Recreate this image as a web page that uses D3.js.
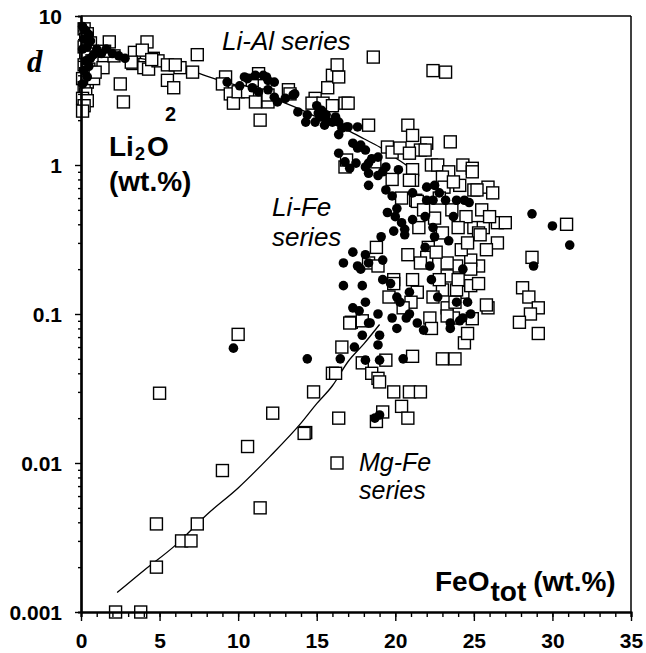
<!DOCTYPE html>
<html><head><meta charset="utf-8">
<script src="https://cdn.jsdelivr.net/npm/d3@7"></script>
<style>html,body{margin:0;padding:0;background:#fff;}svg{display:block;}</style>
</head><body>
<svg id="chart" width="646" height="653"></svg>
<script>
// ---- data (FeOtot wt.%, Li2O wt.%) ----
const xTicks = [0,5,10,15,20,25,30,35];
const yTicks = [0.001,0.01,0.1,1,10];
const yTickLabels = ["0.001","0.01","0.1","1","10"];

// open squares
const squarePoints = [
 [0.2,8.2],[0.4,7.6],[0.3,7.0],[0.6,6.6],[0.2,6.2],[0.5,5.8],[0.3,5.3],[0.7,5.0],[0.2,4.7],[0.5,4.4],
 [0.3,4.1],[0.1,3.8],[0.4,3.6],[0.2,3.3],[0.3,3.0],[0.1,2.8],[0.4,2.7],[0.2,2.5],[0.1,2.3],[0.6,4.0],[0.8,3.8],
 [1.8,6.7],[1.4,4.5],[0.9,4.2],[2.5,3.5],[2.7,2.65],[4.2,6.7],[3.3,4.8],[4.0,4.5],[4.6,5.2],[5.5,3.7],
 [5.9,3.3],[6.3,4.5],[7.1,4.2],[7.4,5.5],[3.4,5.7],[3.9,5.9],[4.3,4.4],[4.9,5.0],[5.5,4.7],[6.0,4.7],
 [4.5,5.1],[3.2,4.9],[2.1,5.4],[1.5,5.8],[9.2,3.9],[9.0,3.5],[9.5,3.0],[9.7,2.6],[10.0,3.1],[10.6,3.1],
 [10.9,3.7],[11.1,2.65],[11.9,2.65],[11.9,2.95],[11.4,2.0],[13.2,3.2],[13.3,3.0],[11.3,4.1],[14.9,2.8],
 [14.7,2.6],[15.4,2.6],[16.0,2.5],[16.8,2.6],[15.7,3.3],[16.0,4.0],[16.4,3.9],[16.3,4.7],[18.6,5.3],
 [17.0,2.6],[18.3,1.85],[19.5,1.32],[19.8,1.22],[18.7,1.05],[16.8,0.97],[16.9,1.08],
 [22.4,4.3],[23.2,4.2],[20.8,1.85],[21.1,1.58],[22.0,1.4],[23.5,1.43],[20.3,1.3],[21.6,1.26],[20.9,1.2],
 [21.9,1.26],[22.3,1.0],[22.7,1.0],[24.3,1.0],[24.9,0.95],[23.4,0.9],[21.1,0.93],[21.1,0.79],[25.9,0.71],
 [26.2,0.65],[25.0,0.68],[24.1,0.73],[21.3,0.58],[26.5,0.41],[27.0,0.41],[25.0,0.38],[25.6,0.38],
 [25.3,0.35],[26.5,0.3],[30.9,0.4],[28.7,0.24],[18.8,0.28],[18.3,0.22],[23.9,0.21],[25.3,0.21],
 [28.1,0.15],[28.5,0.13],[29.1,0.11],[28.6,0.1],[27.9,0.088],[29.1,0.074],[19.9,0.17],[23.0,0.145],
 [24.3,0.14],[25.9,0.11],[17.2,0.088],[17.9,0.09],
 [21.4,0.57],[20.9,0.79],[23.0,0.83],[23.1,0.71],[23.7,0.77],[24.9,0.9],[25.2,0.68],[22.5,0.44],
 [25.4,0.34],[18.9,0.21],[19.9,0.16],[22.1,0.28],[22.0,0.24],[23.3,0.22],[23.3,0.18],[24.8,0.23],
 [24.8,0.2],[24.8,0.155],[23.9,0.145],[21.1,0.17],[21.4,0.14],[22.4,0.13],[23.3,0.11],[22.2,0.094],
 [25.8,0.115],[23.7,0.094],[17.1,0.087],
 [16.6,0.06],[16.0,0.04],[14.8,0.03],[14.3,0.016],[16.4,0.02],[17.9,0.047],[19.4,0.049],[18.5,0.04],
 [18.9,0.037],[19.0,0.035],[19.9,0.03],[20.9,0.03],[21.6,0.03],[20.4,0.024],[20.8,0.02],[19.2,0.022],
 [18.8,0.019],[21.1,0.052],[22.3,0.08],[23.0,0.05],[23.8,0.05],[23.3,0.097],
 [24.4,0.064],[24.6,0.074],[24.9,0.093],
 [10.0,0.073],[5.0,0.0294],[12.2,0.0216],[10.6,0.0129],[9.0,0.0089],[11.4,0.005],[14.2,0.0158],
 [16.2,0.04],[4.8,0.0039],[7.4,0.0039],[6.4,0.003],[7.0,0.003],[4.8,0.002],[2.2,0.001],[3.8,0.001],
 [21.8,0.5],[22.8,0.6],[23.6,0.5],[24.5,0.45],[25.5,0.5],[24.0,0.38],[23.0,0.35],[21.5,0.38],
 [22.6,0.26],[24.2,0.27],[25.8,0.27],[21.6,0.22],[20.8,0.25],[22.8,0.17],[24.0,0.17],[25.3,0.16],
 [21.0,0.12],[23.8,0.12],[20.5,0.11],[19.6,0.13],[24.6,0.3],[20.4,0.6],[19.8,0.8],[26.0,0.45]
];

// filled circles
const circlePoints = [
 [0.1,8.5],[0.3,8.0],[0.5,7.5],[0.2,7.0],[0.6,6.8],[0.4,6.2],[0.1,6.0],[1.0,6.0],[0.8,5.5],[0.3,5.0],
 [0.5,4.6],[0.2,4.3],[0.4,3.9],[0.1,3.5],[0.6,5.2],[1.3,5.6],[2.0,5.6],[2.4,5.4],[2.8,5.2],[1.6,6.0],
 [9.3,3.6],[10.1,3.4],[10.4,3.9],[10.6,3.8],[11.1,4.0],[11.6,4.0],[11.8,3.9],[11.9,3.7],[12.3,3.6],
 [10.9,3.3],[11.9,3.2],[11.3,3.1],[12.3,2.85],[13.0,2.8],[13.6,3.0],[12.5,2.65],[13.5,2.95],
 [13.8,2.27],[14.4,2.17],[14.9,1.94],[15.3,2.33],[15.2,2.1],[15.6,2.17],[16.0,1.94],[14.3,1.94],
 [15.5,1.85],[15.0,2.5],[16.4,1.94],[16.6,1.77],[17.0,1.8],[15.1,2.23],[15.6,2.0],[16.2,2.1],[16.9,1.8],[17.6,1.8],
 [16.4,1.6],[17.3,1.4],[17.8,1.36],[17.6,1.3],[16.4,1.2],[16.8,1.05],[17.1,0.95],[18.1,0.97],[18.5,1.1],
 [19.2,0.9],[18.1,1.26],[18.9,1.13],[17.5,1.03],[18.3,1.03],[18.3,0.88],[19.4,0.97],[20.2,0.93],
 [18.3,0.73],[18.9,0.85],[19.4,0.68],[19.8,0.62],[20.1,0.51],[19.5,0.48],[20.0,0.45],[20.4,0.41],
 [20.6,0.37],[21.1,0.43],[19.9,0.36],[20.6,0.34],[19.1,0.33],
 [22.0,0.58],[22.5,0.73],[22.8,0.65],[23.2,0.58],[23.9,0.58],[24.4,0.58],[24.7,0.56],[21.9,0.45],
 [23.7,0.45],[22.5,0.33],[23.4,0.31],[21.1,0.65],[22.0,0.71],[22.4,0.58],
 [17.3,0.26],[18.1,0.25],[16.7,0.22],[17.6,0.21],[18.3,0.22],[17.8,0.2],[19.2,0.23],[16.7,0.155],
 [17.9,0.155],[19.2,0.17],[19.7,0.16],[20.9,0.14],[20.1,0.13],[20.3,0.12],
 [17.3,0.11],[18.1,0.12],[17.7,0.105],[18.9,0.1],[19.8,0.094],[20.7,0.094],[18.3,0.087],[21.4,0.087],[23.9,0.12],
 [22.4,0.38],[21.9,0.28],[22.2,0.21],[22.3,0.17],[22.7,0.13],[24.3,0.2],[24.6,0.12],[24.3,0.094],[23.5,0.087],
 [16.5,0.05],[17.4,0.06],[17.9,0.072],[18.4,0.087],[18.1,0.049],[19.0,0.049],[18.9,0.062],[19.0,0.072],
 [20.5,0.05],[20.9,0.1],[21.8,0.078],[20.1,0.08],[18.7,0.02],[19.0,0.021],
 [23.5,0.08],[24.1,0.09],[24.8,0.1],
 [28.7,0.47],[30.0,0.39],[31.1,0.29],[28.8,0.21],
 [9.7,0.059],[14.4,0.05]
];

// trend curves
const liAlCurveX = [2, 5, 7, 8, 9, 10, 11, 12, 13, 14, 15, 16, 17, 18, 19, 20, 21, 21.5];
const liAlCurveY = [5.5, 4.9, 4.3, 3.95, 3.65, 3.4, 3.1, 2.85, 2.6, 2.35, 2.1, 1.9, 1.7, 1.5, 1.32, 1.12, 0.95, 0.88];
const mgFeCurveX = [2.3, 4, 6, 8, 10, 12, 14, 15, 16, 17, 18, 19];
const mgFeCurveY = [0.00135, 0.0019, 0.0028, 0.0045, 0.0068, 0.011, 0.0185, 0.025, 0.033, 0.048, 0.063, 0.085];

// ---- drawing ----
const svg = d3.select("#chart");
const x = d3.scaleLinear([0,35],[81,631]);
const y = d3.scaleLog([0.001,10],[612,16]);
const numFont = "'Liberation Sans', Arial, sans-serif";

// curves
const line = d3.line().x(d=>x(d[0])).y(d=>y(d[1])).curve(d3.curveMonotoneX);
svg.append("path").datum(d3.zip(liAlCurveX, liAlCurveY)).attr("d", line)
  .attr("fill","none").attr("stroke","#000").attr("stroke-width",1.3);
svg.append("path").datum(d3.zip(mgFeCurveX, mgFeCurveY)).attr("d", line)
  .attr("fill","none").attr("stroke","#000").attr("stroke-width",1.3);

// squares
const sq = 12;
svg.append("g").selectAll("rect").data(squarePoints).join("rect")
  .attr("x", d=>x(d[0])-sq/2).attr("y", d=>y(d[1])-sq/2)
  .attr("width", sq).attr("height", sq)
  .attr("fill","#fff").attr("stroke","#000").attr("stroke-width",1.4);

// circles
svg.append("g").selectAll("circle").data(circlePoints).join("circle")
  .attr("cx", d=>x(d[0])).attr("cy", d=>y(d[1])).attr("r", 4.8).attr("fill","#000");

// frame
svg.append("line").attr("x1",81).attr("x2",631).attr("y1",16).attr("y2",16).attr("stroke","#000").attr("stroke-width",1.5);
svg.append("line").attr("x1",631).attr("x2",631).attr("y1",16).attr("y2",612).attr("stroke","#000").attr("stroke-width",1.5);

// x axis
const xMinor = d3.range(0,36,1);
const gxm = svg.append("g").attr("transform","translate(0,612)")
  .call(d3.axisBottom(x).tickValues(xMinor).tickSize(5).tickFormat(""));
const gx = svg.append("g").attr("transform","translate(0,612)")
  .call(d3.axisBottom(x).tickValues(xTicks).tickSize(9).tickSizeOuter(0));
[gxm,gx].forEach(g=>{g.select(".domain").attr("stroke-width",2.2); g.selectAll(".tick line").attr("stroke-width",1.4);});
gx.selectAll(".tick text").attr("y",36).attr("dy",0)
  .attr("font-family",numFont).attr("font-weight","bold").attr("font-size",21).attr("fill","#000");

// y axis
const yMinor = [];
[0.001,0.01,0.1,1].forEach(b=>{for(let k=2;k<=9;k++) yMinor.push(b*k);});
const gym = svg.append("g").attr("transform","translate(81,0)")
  .call(d3.axisLeft(y).tickValues(yMinor).tickSize(3).tickFormat(""));
const gy = svg.append("g").attr("transform","translate(81,0)")
  .call(d3.axisLeft(y).tickValues(yTicks).tickSize(6).tickSizeOuter(0)
    .tickFormat((d,i)=>yTickLabels[i]));
[gym,gy].forEach(g=>{g.select(".domain").attr("stroke-width",2.2); g.selectAll(".tick line").attr("stroke-width",1.4);});
gy.selectAll(".tick text").attr("x",-19).attr("dy","0.36em")
  .attr("font-family",numFont).attr("font-weight","bold").attr("font-size",21).attr("fill","#000");

// labels
svg.append("text").attr("x",27).attr("y",72).text("d")
  .attr("font-family","'Liberation Serif', 'Times New Roman', serif").attr("font-style","italic")
  .attr("font-weight","bold").attr("font-size",31);
svg.append("text").attr("x",165).attr("y",121).text("2")
  .attr("font-family",numFont).attr("font-weight","bold").attr("font-size",20);
const li = svg.append("text").attr("x",109).attr("y",156)
  .attr("font-family",numFont).attr("font-weight","bold").attr("font-size",28);
li.append("tspan").text("Li");
li.append("tspan").attr("font-size",18).attr("dy",4).attr("dx",1).text("2");
li.append("tspan").attr("dy",-4).attr("dx",2).text("O");
svg.append("text").attr("x",109).attr("y",191).text("(wt.%)")
  .attr("font-family",numFont).attr("font-weight","bold").attr("font-size",28);

const fe = svg.append("text").attr("x",435).attr("y",591)
  .attr("font-family",numFont).attr("font-weight","bold").attr("font-size",28);
fe.append("tspan").text("FeO");
fe.append("tspan").attr("dy",10).attr("dx",1).text("tot");
fe.append("tspan").attr("dy",-10).attr("dx",7).attr("font-size",28).text("(wt.%)");

const italic = (t, xx, yy, fs) => svg.append("text").attr("x",xx).attr("y",yy).text(t)
  .attr("font-family",numFont).attr("font-style","italic").attr("font-size",fs).attr("fill","#000");
italic("Li-Al series", 222, 50, 26);
italic("Li-Fe", 272, 216, 26);
italic("series", 272, 246, 26);
italic("Mg-Fe", 359, 471, 25);
italic("series", 359, 499, 25);
svg.append("rect").attr("x",331).attr("y",457).attr("width",12).attr("height",12)
  .attr("fill","#fff").attr("stroke","#000").attr("stroke-width",1.4);
</script>
</body></html>
